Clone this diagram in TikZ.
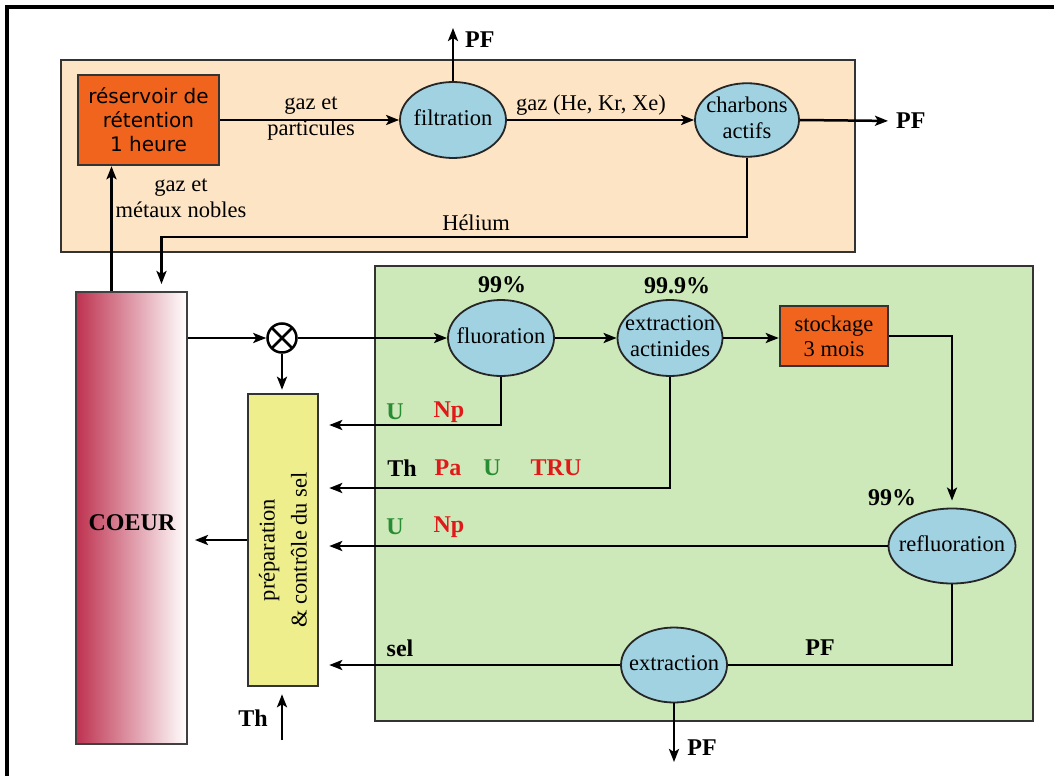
\documentclass[tikz,border=0pt]{standalone}
\usepackage{fontspec}
\setmainfont{Liberation Serif}
\newfontfamily\comicfont{DejaVu Sans}
\usetikzlibrary{arrows.meta,shapes.geometric}
\definecolor{peach}{RGB}{253,228,196}
\definecolor{orangebox}{RGB}{240,100,30}
\definecolor{ellblue}{RGB}{160,210,225}
\definecolor{greenbox}{RGB}{205,232,185}
\definecolor{yellowbox}{RGB}{238,238,140}
\definecolor{coeurred}{RGB}{190,50,80}
\definecolor{lblgreen}{RGB}{40,140,50}
\definecolor{lblred}{RGB}{225,25,25}
\newcommand{\zb}[1]{\makebox[0pt]{\begin{tabular}{@{}c@{}}#1\end{tabular}}}
\begin{document}
\begin{tikzpicture}[x=1pt,y=-1pt,
  every node/.style={font=\fontsize{22.5}{26}\selectfont},
  arr/.style={-{Stealth[length=13pt,width=10pt,inset=3pt]},line width=2.5pt},
  ln/.style={line width=2.5pt},
  ell/.style={ellipse,draw=black!85,line width=1.8pt,fill=ellblue,inner sep=0pt},
  rbox/.style={rectangle,draw=black!80,line width=2.5pt,inner sep=0pt},
  bl/.style={font=\fontsize{24}{28}\selectfont\bfseries},
]
\useasboundingbox (0,0) rectangle (1054,776);
\draw[line width=3.5pt] (7,776) -- (7,7) -- (1054,7);

% background boxes
\node[rbox,fill=peach,minimum width=794,minimum height=192] (gasbox) at (458,156) {};
\node[rbox,fill=greenbox,minimum width=658,minimum height=455] (chembox) at (704,493.5) {};

% gas treatment
\node[rbox,fill=orangebox,minimum width=141,minimum height=90,font=\comicfont\fontsize{20}{24}\selectfont,align=center] (res) at (148.5,120) {réservoir de\\rétention\\1 heure};
\node[ell,minimum width=106,minimum height=76] (filt) at (453,120) {\zb{filtration}};
\node[ell,minimum width=104,minimum height=73] (charb) at (747,120) {\zb{charbons\\actifs}};
\node[bl,anchor=west,inner sep=0pt] (pfR) at (896,121) {PF};
\coordinate (pfTtip) at (453,28);
\node[bl,anchor=west,inner sep=0pt] (pfT) at (465,40) {PF};
\node[align=center] (lgp) at (311,119) {gaz et\\particules};
\node (lghe) at (591,105) {gaz (He, Kr, Xe)};
\node[align=center] (lgm) at (181,198) {gaz et\\métaux nobles};
\node (lhel) at (476,223) {Hélium};

% core and salt preparation
\node[rectangle,draw=black!75,line width=2pt,left color=coeurred,right color=white,minimum width=111,minimum height=452,inner sep=0pt] (coeur) at (131.5,518) {};
\node[bl] (lcoeur) at (132,523) {COEUR};
\node[circle,draw,fill=white,line width=2.5pt,minimum size=29,inner sep=0pt,
  path picture={\draw[line width=2.5pt] (path picture bounding box.north west) -- (path picture bounding box.south east) (path picture bounding box.north east) -- (path picture bounding box.south west);}] (ot) at (282,338) {};
\node[rbox,fill=yellowbox,minimum width=70,minimum height=292] (prep) at (283,540) {};
\node[rotate=90,align=center,font=\fontsize{22.5}{32}\selectfont] (lprep) at (283,550) {préparation\\\& contrôle du sel};
\coordinate (thS) at (282,740);
\node[bl] (lth) at (253,718) {Th};

% chemical processing
\node[ell,minimum width=106,minimum height=76] (fluo) at (501,338) {\zb{fluoration}};
\node[ell,minimum width=105,minimum height=76] (extra) at (670,338) {\zb{extraction\\actinides}};
\node[rbox,fill=orangebox,minimum width=108,minimum height=60,align=center,font=\fontsize{22.5}{25}\selectfont] (stock) at (834,336) {stockage\\3 mois};
\node[ell,minimum width=127,minimum height=75] (reflu) at (952,546) {\zb{refluoration}};
\node[ell,minimum width=106,minimum height=75] (extr) at (674,665) {\zb{extraction}};
\coordinate (pfBtip) at (674,762);
\node[bl] (pfB) at (702,748) {PF};

\node[bl] (p1) at (502,285) {99\%};
\node[bl] (p2) at (677,286) {99.9\%};
\node[bl] (p3) at (892,498) {99\%};

\coordinate (r1) at (0,425);
\coordinate (r2) at (0,488);

\node[bl,text=lblgreen] (u1) at (395,412) {U};
\node[bl,text=lblred] (np1) at (449,412) {Np};
\node[bl] (th2) at (402,468) {Th};
\node[bl,text=lblred] (pa2) at (448,468) {Pa};
\node[bl,text=lblgreen] (u2) at (492,468) {U};
\node[bl,text=lblred] (tru2) at (556,468) {TRU};
\node[bl,text=lblgreen] (u3) at (395,527) {U};
\node[bl,text=lblred] (np3) at (449,527) {Np};
\node[bl] (sel4) at (400,648) {sel};
\node[bl] (pf4) at (820,648) {PF};

% connectors, gas part
\draw[arr] (res) -- (filt);
\draw[arr] (filt) -- (charb);
\draw[arr] (filt.north) -- (pfTtip);
\draw[arr,shorten >=8pt] (charb.east) -- (pfR.west);
\coordinate (hc) at (161.5,237);
\draw[arr,shorten >=7pt] (charb.south) |- (hc) -- (hc |- coeur.north);
\coordinate (cx) at (111.5,0);
\draw[arr] (cx |- coeur.north) -- (cx |- res.south);

% connectors, salt part
\draw[arr] (coeur.east |- ot) -- (ot);
\draw[arr] (ot) -- (fluo);
\draw[arr,shorten >=3pt] (ot) -- (ot |- prep.north);
\draw[arr,shorten >=7pt] (prep.west) -- (coeur.east |- prep.west);
\draw[arr,shorten >=7pt] (thS) -- (thS |- prep.south);
\draw[arr] (fluo) -- (extra);
\draw[arr] (extra.east) -- (extra.east -| stock.west);
\draw[arr,shorten >=7pt] (stock.east) -| (reflu.north);
\draw[arr,shorten >=10pt] (fluo.south) |- (prep.east |- r1);
\draw[arr,shorten >=10pt] (extra.south) |- (prep.east |- r2);
\draw[arr,shorten >=10pt] (reflu.west) -- (prep.east |- reflu.west);
\draw[ln] (reflu.south) |- (extr.east);
\draw[arr,shorten >=10pt] (extr.west) -- (prep.east |- extr.west);
\draw[arr] (extr.south) -- (pfBtip);
\end{tikzpicture}
\end{document}
